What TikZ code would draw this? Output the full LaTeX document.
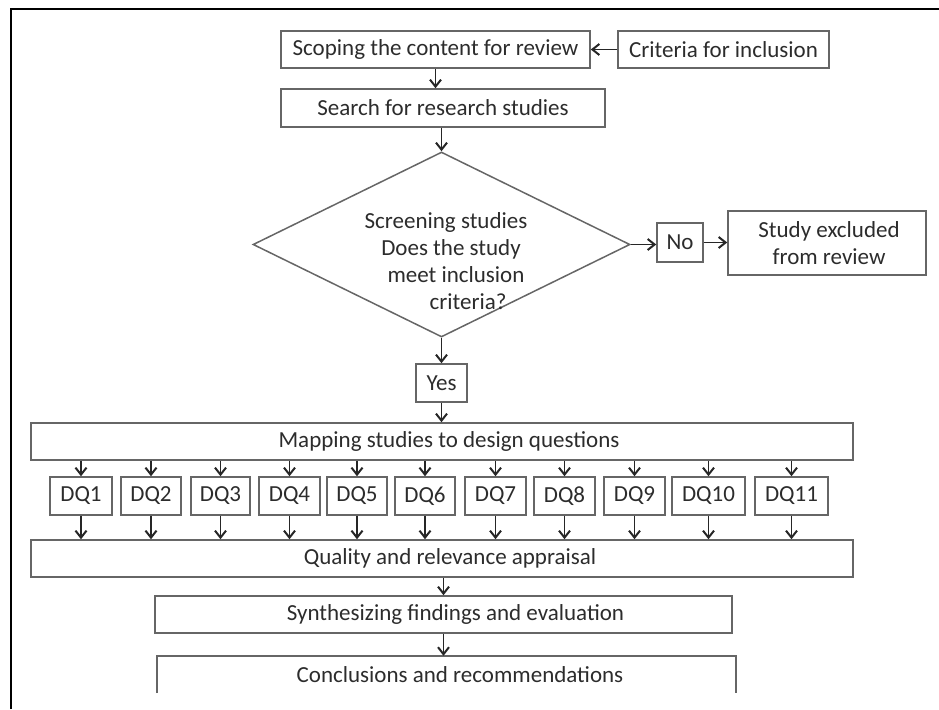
\documentclass[tikz,border=0pt]{standalone}
\usepackage{fontspec}
\setmainfont{Carlito}
\usetikzlibrary{shapes.geometric,arrows.meta}
\definecolor{boxline}{HTML}{666666}
\definecolor{inkgray}{HTML}{2C2C2C}
\begin{document}
\begin{tikzpicture}[x=1pt,y=-1pt,
  every node/.style={font=\fontsize{23}{27}\selectfont, text=inkgray},
  box/.style={draw=boxline, line width=1.5pt, rectangle, inner sep=0pt, minimum height=37},
  openbox/.style={rectangle, inner sep=0pt, minimum height=37},
  arr/.style={draw=black!85, line width=1.4pt, -{Straight Barb[length=7pt,width=11pt,line width=2pt]}},
  frame/.style={draw=black, line width=2.5pt},
]
\useasboundingbox (0,0) rectangle (939,709);

% page frame (top and left rules)
\draw[frame] (11,709) -- (11,9) -- (939,9);

% scoping and search
\node[box, minimum width=309] (scope) at (435.5,49.5) {Scoping the content for review};
\node[box, minimum width=211] (crit) at (723.5,49.5) {Criteria for inclusion};
\node[box, minimum width=324, minimum height=38] (search) at (443,108) {Search for research studies};

% screening decision
\node[diamond, draw=boxline, line width=1.5pt, inner sep=0pt,
      minimum width=377, minimum height=185] (screen) at (441.5,244.5) {};
\node[align=center, inner sep=0pt] (screentext) at (446,261.5)
  {Screening studies\\ \hspace*{10pt}Does the study\\ \hspace*{20pt}meet inclusion\\ \hspace*{44pt}criteria?};
\node[box, minimum width=46, minimum height=39] (no) at (680,242.5) {No};
\node[box, minimum width=198, minimum height=64, align=center] (excl) at (827,243)
  {\hspace*{4pt}Study excluded\\ \hspace*{4pt}from review};
\node[box, minimum width=51, minimum height=38] (yes) at (441.5,383) {Yes};

% mapping and appraisal
\node[box, minimum width=822] (map) at (442,441.5) {\hspace*{14pt}Mapping studies to design questions};
\node[box, minimum width=822] (qual) at (442,558.5) {\hspace*{16pt}Quality and relevance appraisal};
\node[box, minimum width=577] (synth) at (443.5,614.5) {\hspace*{24pt}Synthesizing findings and evaluation};
\node[openbox, minimum width=579] (concl) at (446.5,674.5) {\hspace*{27pt}Conclusions and recommendations};
\draw[boxline, line width=1.5pt] (concl.south west) -- (concl.north west) -- (concl.north east) -- (concl.south east);

% design questions
\foreach \n/\x/\w in {1/81/62, 2/151/60, 3/220.5/59, 4/289.5/61, 5/357/60, 6/425/60,
                      7/495.5/61, 8/564.5/61, 9/634.5/61, 10/708.5/73, 11/791.5/73}{
  \node[box, minimum width=\w, minimum height=38] (dq\n) at (\x,496) {DQ\n};
  \draw[arr] (dq\n.north |- map.south) -- (dq\n.north);
  \draw[arr] (dq\n.south) -- (dq\n.south |- qual.north);
}

% connectors
\draw[arr] (crit.west) -- (scope.east);
\draw[arr] (scope.south) -- (scope.south |- search.north);
\draw[arr] (screen.north |- search.south) -- (screen.north);
\draw[arr] (screen.east) -- (screen.east -| no.west);
\draw[arr] (no.east) -- (no.east -| excl.west);
\draw[arr] (screen.south) -- (yes.north);
\draw[arr] (yes.south) -- (yes.south |- map.north);
\draw[arr] (qual.south -| synth.south) -- (synth.south |- synth.north);
\draw[arr] (synth.south) -- (synth.south |- concl.north);
\end{tikzpicture}
\end{document}
